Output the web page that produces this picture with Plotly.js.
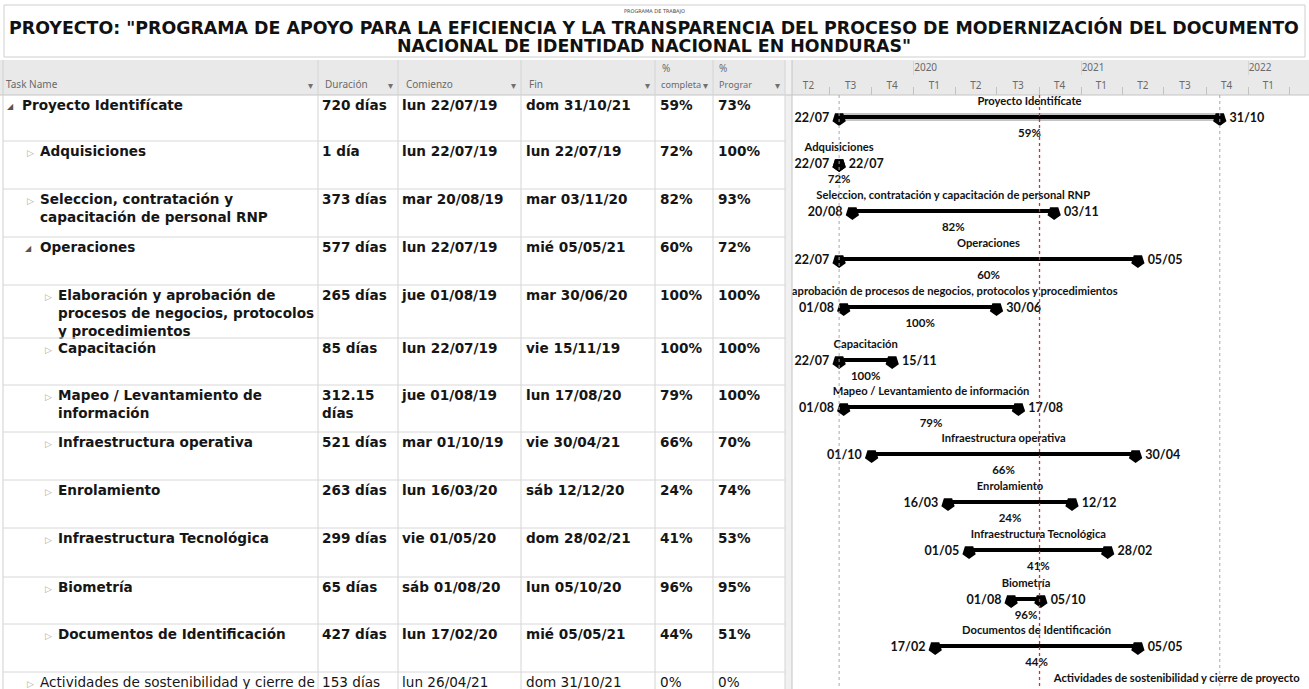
<!DOCTYPE html>
<html>
<head>
<meta charset="utf-8">
<script src="https://cdn.plot.ly/plotly-3.0.1.min.js"></script>
<style>
  html, body { margin: 0; padding: 0; background: #fff; overflow: hidden; }
  #gantt { width: 1309px; height: 689px; }
</style>
</head>
<body>
<div id="gantt"></div>
<script>
// ---- datos del programa de trabajo ----
const taskNames = [
  "Proyecto Identifícate",
  "Adquisiciones",
  "Seleccion, contratación y capacitación de personal RNP",
  "Operaciones",
  "Elaboración y aprobación de procesos de negocios, protocolos y procedimientos",
  "Capacitación",
  "Mapeo / Levantamiento de información",
  "Infraestructura operativa",
  "Enrolamiento",
  "Infraestructura Tecnológica",
  "Biometría",
  "Documentos de Identificación",
  "Actividades de sostenibilidad y cierre de proyecto"
];
const outlineLevel = [0, 1, 1, 1, 2, 2, 2, 2, 2, 2, 2, 2, 1];
const isExpanded = [true, false, false, true, false, false, false, false, false, false, false, false, false];
const durationDays = [720, 1, 373, 577, 265, 85, 312.15, 521, 263, 299, 65, 427, 153];
const startDates = ["2019-07-22", "2019-07-22", "2019-08-20", "2019-07-22", "2019-08-01", "2019-07-22",
  "2019-08-01", "2019-10-01", "2020-03-16", "2020-05-01", "2020-08-01", "2020-02-17", "2021-04-26"];
const endDates = ["2021-10-31", "2019-07-22", "2020-11-03", "2021-05-05", "2020-06-30", "2019-11-15",
  "2020-08-17", "2021-04-30", "2020-12-12", "2021-02-28", "2020-10-05", "2021-05-05", "2021-10-31"];
const pctComplete = [59, 72, 82, 60, 100, 100, 79, 66, 24, 41, 96, 44, 0];
const pctScheduled = [73, 100, 93, 72, 100, 100, 100, 70, 74, 53, 95, 51, 0];
const statusDate = "2020-10-02";

const quarterMid = ["2019-05-16", "2019-08-16", "2019-11-15", "2020-02-15", "2020-05-16", "2020-08-16",
  "2020-11-15", "2021-02-14", "2021-05-16", "2021-08-16", "2021-11-15", "2022-02-14"];
const quarterText = ["T2", "T3", "T4", "T1", "T2", "T3", "T4", "T1", "T2", "T3", "T4", "T1"];
const yearStart = ["2020-01-01", "2021-01-01", "2022-01-01"];
const yearText = ["2020", "2021", "2022"];

// ---- geometría de la página (px) ----
const W = 1309, H = 689;
const HEAD_TOP = 60, HEAD_MID = 75, HEAD_BOT = 95;
const colEdges = [318, 398, 521, 655, 713, 785];
const GANTT_LEFT = 792;
const ROW_H = [46, 48, 48, 48, 53, 47, 47, 48, 48, 49, 47, 48, 48];
const normalWeightRows = [12];
const rowTops = [];
ROW_H.reduce((t, h) => { rowTops.push(t); return t + h; }, HEAD_BOT);

const weekdays = ["dom", "lun", "mar", "mié", "jue", "vie", "sáb"];
const toMs = s => Date.parse(s + "T00:00:00Z");
function longDate(s) {
  const d = new Date(toMs(s));
  return weekdays[d.getUTCDay()] + " " + s.slice(8, 10) + "/" + s.slice(5, 7) + "/" + s.slice(2, 4);
}
const shortDate = s => s.slice(8, 10) + "/" + s.slice(5, 7);
const msToStr = ms => new Date(ms).toISOString().slice(0, 19).replace("T", " ");
function wrap(text, maxChars) {
  const lines = [];
  let cur = "";
  text.split(" ").forEach(w => {
    if (cur && (cur + " " + w).length > maxChars) { lines.push(cur); cur = w; }
    else cur = cur ? cur + " " + w : w;
  });
  lines.push(cur);
  return lines.join("<br>");
}
const isBold = i => !normalWeightRows.includes(i);
const styled = (s, i) => isBold(i) ? "<b>" + s.split("<br>").join("</b><br><b>") + "</b>" : s;

const durText = durationDays.map(d => {
  const s = d === 1 ? "1 día" : d + " días";
  return s.length > 8 ? s.replace(" ", "<br>") : s;
});

// ---- tabla (texto sobre ejes en px) ----
const tableFont = { family: "DejaVu Sans", size: 13.6, color: "#161616" };
function tableColumn(xs, texts) {
  return {
    type: "scatter", mode: "text", xaxis: "x", yaxis: "y",
    x: xs, y: rowTops.map(t => t + 5),
    text: texts.map(styled), textposition: "bottom right",
    textfont: tableFont, cliponaxis: false, hoverinfo: "skip"
  };
}
const nameX = outlineLevel.map(l => 22 + 18 * l);
const traces = [
  tableColumn(nameX, taskNames.map((n, i) => wrap(n, isBold(i) ? 33 : 42))),
  tableColumn(rowTops.map(() => colEdges[0] + 4), durText),
  tableColumn(rowTops.map(() => colEdges[1] + 4), startDates.map(longDate)),
  tableColumn(rowTops.map(() => colEdges[2] + 5), endDates.map(longDate)),
  tableColumn(rowTops.map(() => colEdges[3] + 5), pctComplete.map(p => p + "%")),
  tableColumn(rowTops.map(() => colEdges[4] + 5), pctScheduled.map(p => p + "%")),
  {
    type: "scatter", mode: "text", xaxis: "x", yaxis: "y",
    x: nameX.map((x, i) => x - (isExpanded[i] ? 15 : 13)), y: rowTops.map(t => t + 8),
    text: isExpanded.map(e => e ? "◢" : "▷"), textposition: "bottom right",
    textfont: { family: "DejaVu Sans", size: isExpanded.map(e => e ? 8 : 9),
      color: isExpanded.map(e => e ? "#555" : "#aaa") },
    cliponaxis: false, hoverinfo: "skip"
  }
];

// ---- diagrama de Gantt ----
const barY = rowTops.map(t => t + 22);
const midDates = startDates.map((s, i) => msToStr((toMs(s) + toMs(endDates[i])) / 2));
const barX = [], barYs = [];
startDates.forEach((s, i) => { barX.push(s, endDates[i], null); barYs.push(barY[i], barY[i], null); });
const sumX = [], sumY = [];
outlineLevel.forEach((l, i) => { if (l === 0) { sumX.push(startDates[i], endDates[i], null); sumY.push(barY[i], barY[i], null); } });

const gFont = { family: "Lato", size: 12.5, color: "#111", weight: "bold" };
const capMarker = { symbol: "pentagon", angle: 180, size: 14, color: "#000" };
traces.push(
  { type: "scatter", mode: "lines", xaxis: "x2", yaxis: "y", x: sumX, y: sumY,
    line: { color: "#c4c4c4", width: 8 }, hoverinfo: "skip" },
  { type: "scatter", mode: "lines", xaxis: "x2", yaxis: "y", x: barX, y: barYs,
    line: { color: "#000", width: 4 }, hoverinfo: "skip" },
  { type: "scatter", mode: "markers+text", xaxis: "x2", yaxis: "y",
    x: startDates, y: barY.map(b => b + 2), marker: capMarker,
    text: startDates.map(shortDate), textposition: "middle left", textfont: gFont, hoverinfo: "skip" },
  { type: "scatter", mode: "markers+text", xaxis: "x2", yaxis: "y",
    x: endDates, y: barY.map(b => b + 2), marker: capMarker,
    text: endDates.map(shortDate), textposition: "middle right", textfont: gFont, hoverinfo: "skip" },
  { type: "scatter", mode: "text", xaxis: "x2", yaxis: "y",
    x: midDates, y: rowTops.map(t => t + 7), text: taskNames, textposition: "middle center",
    textfont: { family: "Lato", size: 11.2, color: "#111", weight: "bold" }, hoverinfo: "skip" },
  { type: "scatter", mode: "text", xaxis: "x2", yaxis: "y",
    x: midDates, y: rowTops.map(t => t + 39), text: pctComplete.map(p => p + "%"), textposition: "middle center",
    textfont: { family: "Lato", size: 11.5, color: "#111", weight: "bold" }, hoverinfo: "skip" },
  { type: "scatter", mode: "markers", xaxis: "x3", yaxis: "y", x: [], y: [] }
);

// ---- formas: cuadrícula, cabeceras, líneas de fecha ----
const line = (x0, y0, x1, y1, color, extra) => Object.assign(
  { type: "line", xref: "x", yref: "y", x0, y0, x1, y1, line: { color, width: 1 } }, extra || {});
const shapes = [
  { type: "rect", xref: "x", yref: "y", x0: 4, x1: 1305, y0: 5, y1: 57, line: { color: "#cfcfcf", width: 1 }, layer: "below" },
  { type: "rect", xref: "x", yref: "y", x0: 0, x1: colEdges[5], y0: HEAD_TOP, y1: HEAD_BOT, fillcolor: "#e9e9e9", line: { width: 0 }, layer: "below" },
  { type: "rect", xref: "x", yref: "y", x0: GANTT_LEFT, x1: W, y0: HEAD_TOP, y1: HEAD_BOT, fillcolor: "#e9e9e9", line: { width: 0 }, layer: "below" },
  { type: "rect", xref: "x", yref: "y", x0: colEdges[5], x1: GANTT_LEFT, y0: HEAD_TOP, y1: H, fillcolor: "#f1f1f1", line: { width: 0 }, layer: "below" },
  line(0, HEAD_BOT, W, HEAD_BOT, "#c4c4c4"),
  line(3, HEAD_TOP, 3, H, "#d0d0d0"),
  line(GANTT_LEFT, HEAD_TOP, GANTT_LEFT, H, "#c4c4c4")
];
colEdges.forEach(x => shapes.push(line(x, HEAD_TOP, x, H, "#d4d4d4")));
rowTops.slice(1).forEach(y => shapes.push(line(3, y, colEdges[5], y, "#d8d8d8")));
[startDates[0], endDates[0]].forEach(d => shapes.push(
  { type: "line", xref: "x2", yref: "y", x0: d, x1: d, y0: HEAD_BOT, y1: H, line: { color: "#a8a8a8", width: 1, dash: "dot" } }));
shapes.push({ type: "line", xref: "x2", yref: "y", x0: statusDate, x1: statusDate, y0: HEAD_BOT, y1: H,
  line: { color: "#e02a2a", width: 1.3, dash: "dot" } });

// ---- textos de cabecera y título ----
const hdrFont = { family: "Noto Sans", size: 10, color: "#6a6a6a" };
const narrowHdrFont = { family: "Noto Sans", size: 9.2, color: "#6a6a6a" };
const ann = (x, y, text, font, xanchor) => ({ xref: "x", yref: "y", x, y, text, font, showarrow: false,
  xanchor: xanchor || "left", yanchor: "middle" });
const titleFont = { family: "DejaVu Sans", size: 17.4, color: "#111", weight: "bold" };
const annotations = [
  ann(654, 11, "PROGRAMA DE TRABAJO", { family: "DejaVu Sans", size: 5, color: "#444" }, "center"),
  ann(654, 27, 'PROYECTO: "PROGRAMA DE APOYO PARA LA EFICIENCIA Y LA TRANSPARENCIA DEL PROCESO DE MODERNIZACIÓN DEL DOCUMENTO', titleFont, "center"),
  ann(654, 46, 'NACIONAL DE IDENTIDAD NACIONAL EN HONDURAS"', titleFont, "center"),
  ann(4, 84, "Task Name", hdrFont),
  ann(colEdges[0] + 5, 84, "Duración", hdrFont),
  ann(colEdges[1] + 6, 84, "Comienzo", hdrFont),
  ann(colEdges[2] + 6, 84, "Fin", hdrFont),
  ann(colEdges[3] + 5, 68, "%", hdrFont),
  ann(colEdges[3] + 4, 84, "completa", narrowHdrFont),
  ann(colEdges[4] + 4, 68, "%", hdrFont),
  ann(colEdges[4] + 4, 84, "Prograr", narrowHdrFont)
];
colEdges.forEach(x => annotations.push(ann(x - 3, 85, "▾", { family: "DejaVu Sans", size: 10, color: "#707070" }, "right")));

const ganttRange = ["2019-04-10", "2022-05-14"];
const layout = {
  width: W, height: H,
  margin: { l: 0, r: 0, t: 0, b: 0 },
  paper_bgcolor: "#fff", plot_bgcolor: "rgba(0,0,0,0)",
  showlegend: false, hovermode: false, dragmode: false,
  xaxis: { domain: [0, 1], range: [0, W], visible: false, fixedrange: true },
  yaxis: { domain: [0, 1], range: [H, 0], visible: false, fixedrange: true },
  xaxis2: {
    type: "date", domain: [GANTT_LEFT / W, 1], range: ganttRange,
    anchor: "free", position: 1 - HEAD_BOT / H, side: "top",
    tickmode: "array", tickvals: quarterMid, ticktext: quarterText, ticks: "",
    showgrid: false, zeroline: false, showline: false, fixedrange: true,
    tickfont: hdrFont, ticklabelstandoff: 4,
    minor: { ticks: "outside", ticklen: 8, tickcolor: "#c2c2c2", tickmode: "linear",
      tick0: "2019-01-01", dtick: "M3", showgrid: false }
  },
  xaxis3: {
    type: "date", overlaying: "x2", range: ganttRange,
    anchor: "free", position: 1 - HEAD_MID / H, side: "top",
    tickmode: "array", tickvals: yearStart, ticktext: yearText,
    ticks: "outside", ticklen: 14, tickcolor: "#d6d6d6", ticklabelposition: "outside right",
    showgrid: false, zeroline: false, showline: false, fixedrange: true, tickfont: hdrFont
  },
  shapes, annotations
};

Plotly.newPlot("gantt", traces, layout, { staticPlot: true, displayModeBar: false });
</script>
</body>
</html>
